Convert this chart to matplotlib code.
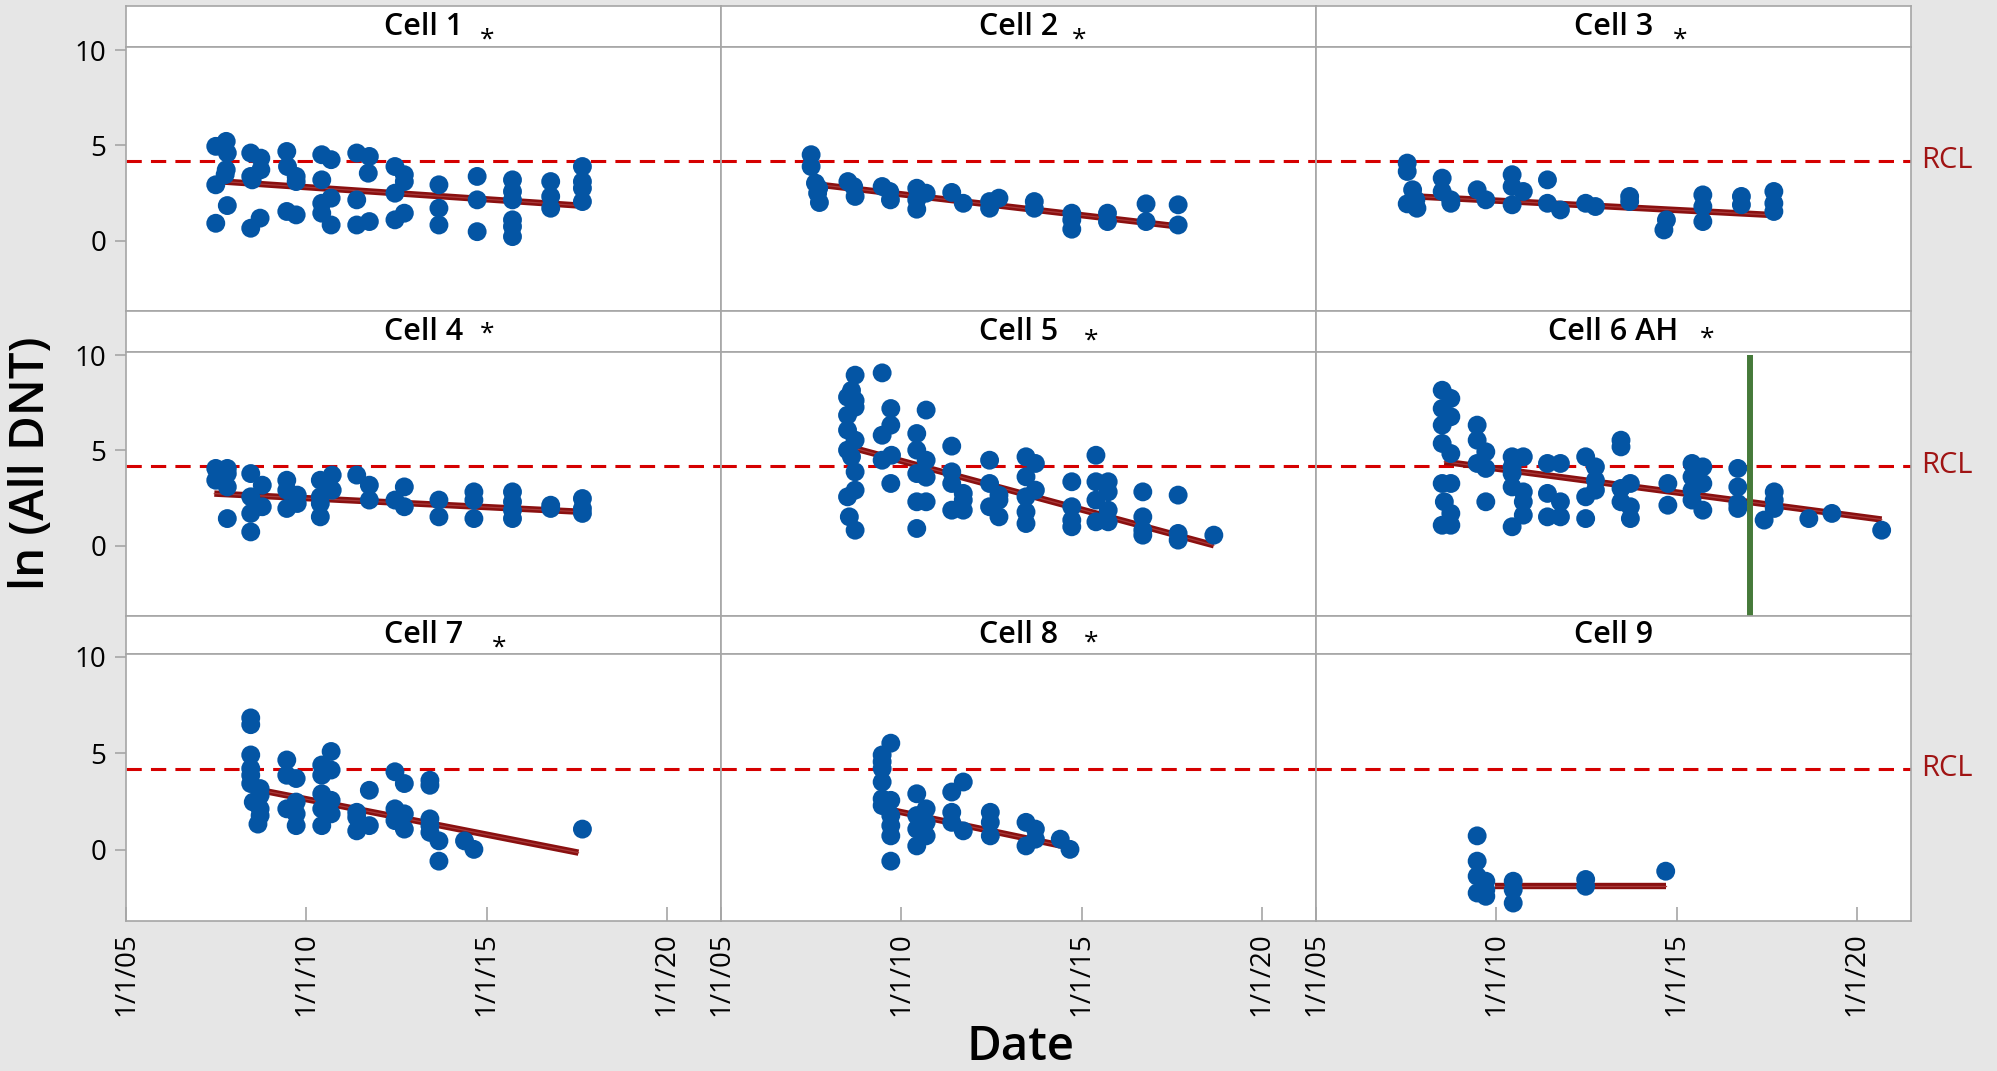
import numpy as np
import matplotlib
matplotlib.use("Agg")
import matplotlib.pyplot as plt

plt.rcParams['font.family'] = ['Open Sans', 'DejaVu Sans']

# panel titles, in grid order
cell_names = ['Cell 1', 'Cell 2', 'Cell 3', 'Cell 4', 'Cell 5', 'Cell 6 AH',
              'Cell 7', 'Cell 8', 'Cell 9']

# date (decimal year) and ln(All DNT)
cell1_dates = [2007.49, 2007.49, 2007.49, 2007.78, 2007.81, 2007.78, 2007.75, 2007.81,
               2008.46, 2008.74, 2008.74, 2008.46, 2008.5, 2008.72, 2008.46,
               2009.46, 2009.48, 2009.72, 2009.72, 2009.46, 2009.72,
               2010.43, 2010.69, 2010.43, 2010.69, 2010.43, 2010.43, 2010.69,
               2011.4, 2011.75, 2011.72, 2011.4, 2011.4, 2011.75,
               2012.46, 2012.72, 2012.72, 2012.46, 2012.46, 2012.72,
               2013.68, 2013.68, 2013.68, 2014.74, 2014.74, 2014.74,
               2015.72, 2015.72, 2015.72, 2015.72, 2015.72, 2015.72,
               2016.78, 2016.78, 2016.78, 2017.66, 2017.66, 2017.66, 2017.66]
cell1_vals = [4.95, 2.93, 0.91, 5.21, 4.6, 3.72, 3.46, 1.84,
              4.6, 4.33, 3.72, 3.37, 3.19, 1.18, 0.65,
              4.68, 3.89, 3.37, 3.1, 1.53, 1.35,
              4.51, 4.25, 3.19, 2.23, 1.96, 1.44, 0.82,
              4.6, 4.42, 3.54, 2.14, 0.82, 1.0,
              3.89, 3.46, 3.1, 2.49, 1.09, 1.44,
              2.93, 1.7, 0.82, 3.37, 2.14, 0.47,
              3.19, 2.58, 2.14, 1.09, 0.74, 0.21,
              3.1, 2.32, 1.7, 3.89, 3.1, 2.75, 2.05]

cell2_dates = [2007.5, 2007.5, 2007.62, 2007.71, 2007.68, 2007.73,
               2008.52, 2008.68, 2008.72, 2009.47, 2009.68, 2009.7,
               2010.43, 2010.69, 2010.43, 2010.43, 2011.4, 2011.72,
               2012.71, 2012.45, 2012.45, 2013.69, 2013.69,
               2014.73, 2014.73, 2014.73, 2015.72, 2015.72,
               2016.79, 2016.79, 2017.68, 2017.68]
cell2_vals = [4.51, 3.89, 3.02, 2.75, 2.49, 2.0,
              3.1, 2.84, 2.32, 2.84, 2.58, 2.14,
              2.75, 2.49, 2.14, 1.65, 2.53, 1.96,
              2.23, 2.05, 1.7, 2.05, 1.7,
              1.44, 1.09, 0.6, 1.44, 1.0,
              1.93, 1.0, 1.88, 0.82]

cell3_dates = [2007.53, 2007.53, 2007.53, 2007.68, 2007.77, 2007.8,
               2008.5, 2008.5, 2008.74, 2008.74, 2009.47, 2009.71,
               2010.44, 2010.44, 2010.75, 2010.44, 2011.42, 2011.42, 2011.78,
               2012.48, 2012.75, 2013.7, 2013.7, 2014.72, 2014.65,
               2015.73, 2015.73, 2015.73, 2016.8, 2016.8,
               2017.7, 2017.7, 2017.7]
cell3_vals = [4.07, 3.63, 1.93, 2.67, 2.14, 1.7,
              3.28, 2.58, 2.14, 1.96, 2.67, 2.14,
              3.46, 2.84, 2.58, 1.88, 3.19, 1.96, 1.61,
              1.96, 1.79, 2.32, 2.05, 1.09, 0.56,
              2.4, 1.79, 1.0, 2.32, 1.88,
              2.58, 1.96, 1.53]

cell4_dates = [2007.49, 2007.49, 2007.81, 2007.81, 2007.81, 2007.81,
               2008.46, 2008.46, 2008.78, 2008.78, 2008.46, 2008.46,
               2009.46, 2009.46, 2009.75, 2009.46, 2009.75,
               2010.72, 2010.39, 2010.72, 2010.39, 2010.39, 2010.39,
               2011.4, 2011.75, 2011.75, 2012.72, 2012.46, 2012.72,
               2013.68, 2013.68, 2014.65, 2014.65, 2014.65,
               2015.72, 2015.72, 2015.72, 2015.72, 2016.78, 2016.78,
               2017.66, 2017.66, 2017.66]
cell4_vals = [4.06, 3.44, 4.06, 3.79, 3.09, 1.43,
              3.79, 2.57, 3.18, 2.05, 1.7, 0.73,
              3.44, 2.92, 2.66, 1.96, 2.22,
              3.71, 3.44, 2.92, 2.57, 2.22, 1.52,
              3.71, 3.18, 2.4, 3.09, 2.4, 2.05,
              2.4, 1.52, 2.83, 2.4, 1.43,
              2.83, 2.31, 1.87, 1.43, 2.13, 1.96,
              2.48, 1.96, 1.7]

cell5_dates = [2008.72, 2008.62, 2008.51, 2008.72, 2008.72, 2008.51, 2008.51, 2008.72,
               2008.51, 2008.62, 2008.72, 2008.72, 2008.51, 2008.56, 2008.72,
               2009.47, 2009.71, 2009.71, 2009.47, 2009.73, 2009.47, 2009.71,
               2010.69, 2010.43, 2010.43, 2010.69, 2010.43, 2010.69, 2010.43, 2010.69, 2010.43,
               2011.4, 2011.4, 2011.4, 2011.72, 2011.72, 2011.4, 2011.72,
               2012.45, 2012.45, 2012.71, 2012.71, 2012.45, 2012.71,
               2013.46, 2013.72, 2013.46, 2013.72, 2013.46, 2013.46, 2013.46,
               2014.73, 2014.73, 2014.73, 2014.73,
               2015.4, 2015.74, 2015.4, 2015.74, 2015.4, 2015.74, 2015.4, 2015.74,
               2016.7, 2016.7, 2016.7, 2016.7,
               2017.68, 2017.68, 2017.68, 2018.67]
cell5_vals = [8.95, 8.15, 7.8, 7.62, 7.27, 6.85, 6.07, 5.54,
              5.02, 4.67, 3.88, 2.92, 2.57, 1.52, 0.82,
              9.07, 7.2, 6.33, 5.8, 4.75, 4.49, 3.27,
              7.12, 5.89, 5.02, 4.49, 3.79, 3.6, 2.31, 2.31, 0.91,
              5.23, 3.88, 3.27, 2.75, 2.4, 1.87, 1.87,
              4.49, 3.27, 2.66, 2.4, 2.05, 1.52,
              4.67, 4.32, 3.62, 2.92, 2.57, 1.78, 1.17,
              3.36, 2.05, 1.35, 1.0,
              4.75, 3.36, 3.36, 2.83, 2.4, 1.87, 1.26, 1.26,
              2.83, 1.52, 0.82, 0.56,
              2.66, 0.65, 0.3, 0.56]

cell6_dates = [2008.5, 2008.74, 2008.5, 2008.74, 2008.5, 2008.5, 2008.74, 2008.5,
               2008.74, 2008.56, 2008.74, 2008.5, 2008.74,
               2009.47, 2009.47, 2009.71, 2009.47, 2009.71, 2009.71,
               2010.44, 2010.75, 2010.44, 2010.44, 2010.44, 2010.75, 2010.75, 2010.75, 2010.44,
               2011.42, 2011.78, 2011.42, 2011.78, 2011.42, 2011.78,
               2012.48, 2012.75, 2012.75, 2012.75, 2012.48, 2012.48,
               2013.46, 2013.46, 2013.72, 2013.46, 2013.46, 2013.72, 2013.72,
               2014.76, 2014.76,
               2015.43, 2015.73, 2015.43, 2015.73, 2015.43, 2015.43, 2015.73,
               2016.7, 2016.7, 2016.7, 2016.7,
               2017.71, 2017.71, 2017.71, 2017.43,
               2018.67, 2019.31, 2020.69]
cell6_vals = [8.16, 7.73, 7.2, 6.77, 6.33, 5.37, 4.84, 3.27,
              3.27, 2.31, 1.7, 1.08, 1.08,
              6.33, 5.54, 4.93, 4.32, 4.06, 2.31,
              4.67, 4.67, 4.14, 3.79, 3.09, 2.83, 2.31, 1.61, 1.0,
              4.32, 4.32, 2.75, 2.31, 1.52, 1.52,
              4.67, 4.14, 3.44, 2.92, 2.57, 1.43,
              5.54, 5.19, 3.27, 3.01, 2.31, 2.05, 1.43,
              3.27, 2.13,
              4.32, 4.14, 3.62, 3.27, 2.92, 2.4, 1.87,
              4.06, 3.09, 2.22, 1.96,
              2.83, 2.4, 1.96, 1.35,
              1.43, 1.7, 0.82]

cell7_dates = [2008.46, 2008.46, 2008.46, 2008.46, 2008.46, 2008.46,
               2008.72, 2008.72, 2008.53, 2008.72, 2008.72, 2008.66,
               2009.46, 2009.46, 2009.72, 2009.72, 2009.46, 2009.72, 2009.72,
               2010.69, 2010.43, 2010.69, 2010.43, 2010.43, 2010.69, 2010.43, 2010.69, 2010.43,
               2011.75, 2011.4, 2011.4, 2011.75, 2011.4,
               2012.46, 2012.72, 2012.46, 2012.72, 2012.46, 2012.72,
               2013.43, 2013.43, 2013.43, 2013.43, 2013.43, 2013.68, 2013.68,
               2014.39, 2014.65, 2017.66]
cell7_vals = [6.84, 6.49, 4.92, 4.22, 3.87, 3.44,
              3.18, 2.83, 2.48, 2.13, 1.78, 1.34,
              4.66, 3.87, 3.7, 2.48, 2.13, 1.87, 1.26,
              5.1, 4.4, 4.14, 3.87, 2.91, 2.57, 2.13, 1.87, 1.26,
              3.09, 1.95, 1.69, 1.26, 0.99,
              4.05, 3.44, 2.13, 1.87, 1.52, 1.08,
              3.61, 3.35, 1.61, 1.26, 0.91, 0.47, -0.58,
              0.47, 0.03, 1.08]

cell8_dates = [2009.71, 2009.47, 2009.47, 2009.47, 2009.47, 2009.47, 2009.71, 2009.47,
               2009.71, 2009.71, 2009.71, 2009.71,
               2010.43, 2010.69, 2010.43, 2010.69, 2010.43, 2010.69, 2010.43,
               2011.72, 2011.4, 2011.4, 2011.4, 2011.72,
               2012.47, 2012.47, 2012.47,
               2013.46, 2013.72, 2013.72, 2013.46,
               2014.41, 2014.68]
cell8_vals = [5.53, 4.92, 4.57, 4.22, 3.52, 2.65, 2.57, 2.3,
              1.78, 1.26, 0.73, -0.58,
              2.91, 2.13, 1.78, 1.43, 1.08, 0.73, 0.21,
              3.52, 3.0, 1.95, 1.43, 0.99,
              1.95, 1.43, 0.73,
              1.43, 1.08, 0.56, 0.21,
              0.56, 0.03]

cell9_dates = [2009.47, 2009.47, 2009.47, 2009.47, 2009.71, 2009.71, 2009.71,
               2010.47, 2010.47, 2010.47, 2012.48, 2012.48, 2014.7]
cell9_vals = [0.73, -0.58, -1.36, -2.23, -1.62, -2.06, -2.4,
              -1.62, -2.06, -2.75, -1.53, -1.88, -1.1]

all_dates = [cell1_dates, cell2_dates, cell3_dates, cell4_dates, cell5_dates,
             cell6_dates, cell7_dates, cell8_dates, cell9_dates]
all_vals = [cell1_vals, cell2_vals, cell3_vals, cell4_vals, cell5_vals,
            cell6_vals, cell7_vals, cell8_vals, cell9_vals]

# fitted trend lines (start / end) as drawn
trend_x = [[2007.7, 2017.5], [2007.75, 2017.7], [2007.77, 2017.6],
           [2007.45, 2017.68], [2008.56, 2018.67], [2008.56, 2020.69],
           [2008.91, 2017.55], [2009.79, 2014.47], [2009.96, 2014.7]]
trend_y = [[3.1, 1.85], [2.93, 0.74], [2.32, 1.35],
           [2.74, 1.78], [5.19, 0.03], [4.41, 1.38],
           [3.03, -0.14], [2.04, 0.21], [-1.85, -1.85]]

rcl = 4.2
cell6_marker_date = 2017.04

year_ticks = [2005, 2010, 2015, 2020]
year_labels = ['1/1/05', '1/1/10', '1/1/15', '1/1/20']

# asterisk beside each title (axes fraction in the strip), None = no mark
star_pos = [(0.607, 0.18), (0.602, 0.18), (0.612, 0.18),
            (0.607, 0.43), (0.622, 0.26), (0.658, 0.31),
            (0.627, 0.15), (0.622, 0.29), None]

W, H = 1997, 1071
fig = plt.figure(figsize=(W / 100, H / 100), dpi=100)
fig.patch.set_facecolor('#E6E6E6')

col_left = [126, 721, 1316]
col_w = 594.5
# strip top, strip bottom, plot bottom (pixels from the top)
rows = [(6, 47.3, 310.7), (311, 352.3, 616), (616, 654, 921)]

edge = '#A6A6A6'
blue = '#0455A4'

for i in range(9):
    r, c = divmod(i, 3)
    st, sb, pb = rows[r]
    x0 = col_left[c] / W

    # strip with the cell name
    sax = fig.add_axes([x0, 1 - sb / H, col_w / W, (sb - st) / H])
    sax.set_xticks([])
    sax.set_yticks([])
    for s in sax.spines.values():
        s.set_color(edge)
        s.set_linewidth(1.2)
    sax.text(0.5, 0.5, cell_names[i], ha='center', va='center',
             fontsize=22, fontweight='semibold', transform=sax.transAxes)
    if star_pos[i] is not None:
        sax.text(star_pos[i][0], star_pos[i][1], '*', ha='center', va='center',
                 fontsize=19, transform=sax.transAxes)

    ax = fig.add_axes([x0, 1 - pb / H, col_w / W, (pb - sb) / H])
    for s in ax.spines.values():
        s.set_color(edge)
        s.set_linewidth(1.2)

    ax.axhline(rcl, color='#D50000', lw=2.2, dashes=(5, 3), zorder=2)
    ax.plot(trend_x[i], trend_y[i], color='#8A1010', lw=4.6,
            solid_capstyle='butt', zorder=3)
    ax.plot(trend_x[i], trend_y[i], color='#A83A3A', lw=0.9, zorder=3)
    ax.scatter(all_dates[i], all_vals[i], s=185, color=blue,
               edgecolors='none', zorder=4)

    if i == 5:
        ax.plot([cell6_marker_date, cell6_marker_date], [10.0, -3.85],
                color='#467A3A', lw=4.3, solid_capstyle='butt',
                clip_on=False, zorder=6)
    if c == 2:
        ax.text(1.018, rcl, 'RCL', color='#A01414', fontsize=21,
                va='center', ha='left', transform=ax.get_yaxis_transform())

    ax.set_xlim(2005, 2021.49)
    ax.set_ylim(-3.68, 10.15)

    if c == 0:
        ax.set_yticks([0, 5, 10])
        ax.set_yticklabels(['0', '5', '10'])
        ax.tick_params(axis='y', direction='out', length=8, width=1.2,
                       color=edge, labelsize=20, pad=6)
    else:
        ax.set_yticks([])

    if r == 2:
        ax.set_xticks(year_ticks)
        ax.set_xticklabels(year_labels, rotation=90)
        ax.tick_params(axis='x', direction='in', length=10, width=1.2,
                       color=edge, labelsize=20, pad=8)
    else:
        ax.set_xticks([])

fig.text(32 / W, 1 - 463 / H, 'ln (All DNT)', rotation=90, ha='center',
         va='center', fontsize=34, fontweight='semibold')
fig.text(1020 / W, 1 - 1047 / H, 'Date', ha='center', va='center',
         fontsize=34, fontweight='semibold')

fig.savefig('out.png', dpi=100, facecolor=fig.get_facecolor())
